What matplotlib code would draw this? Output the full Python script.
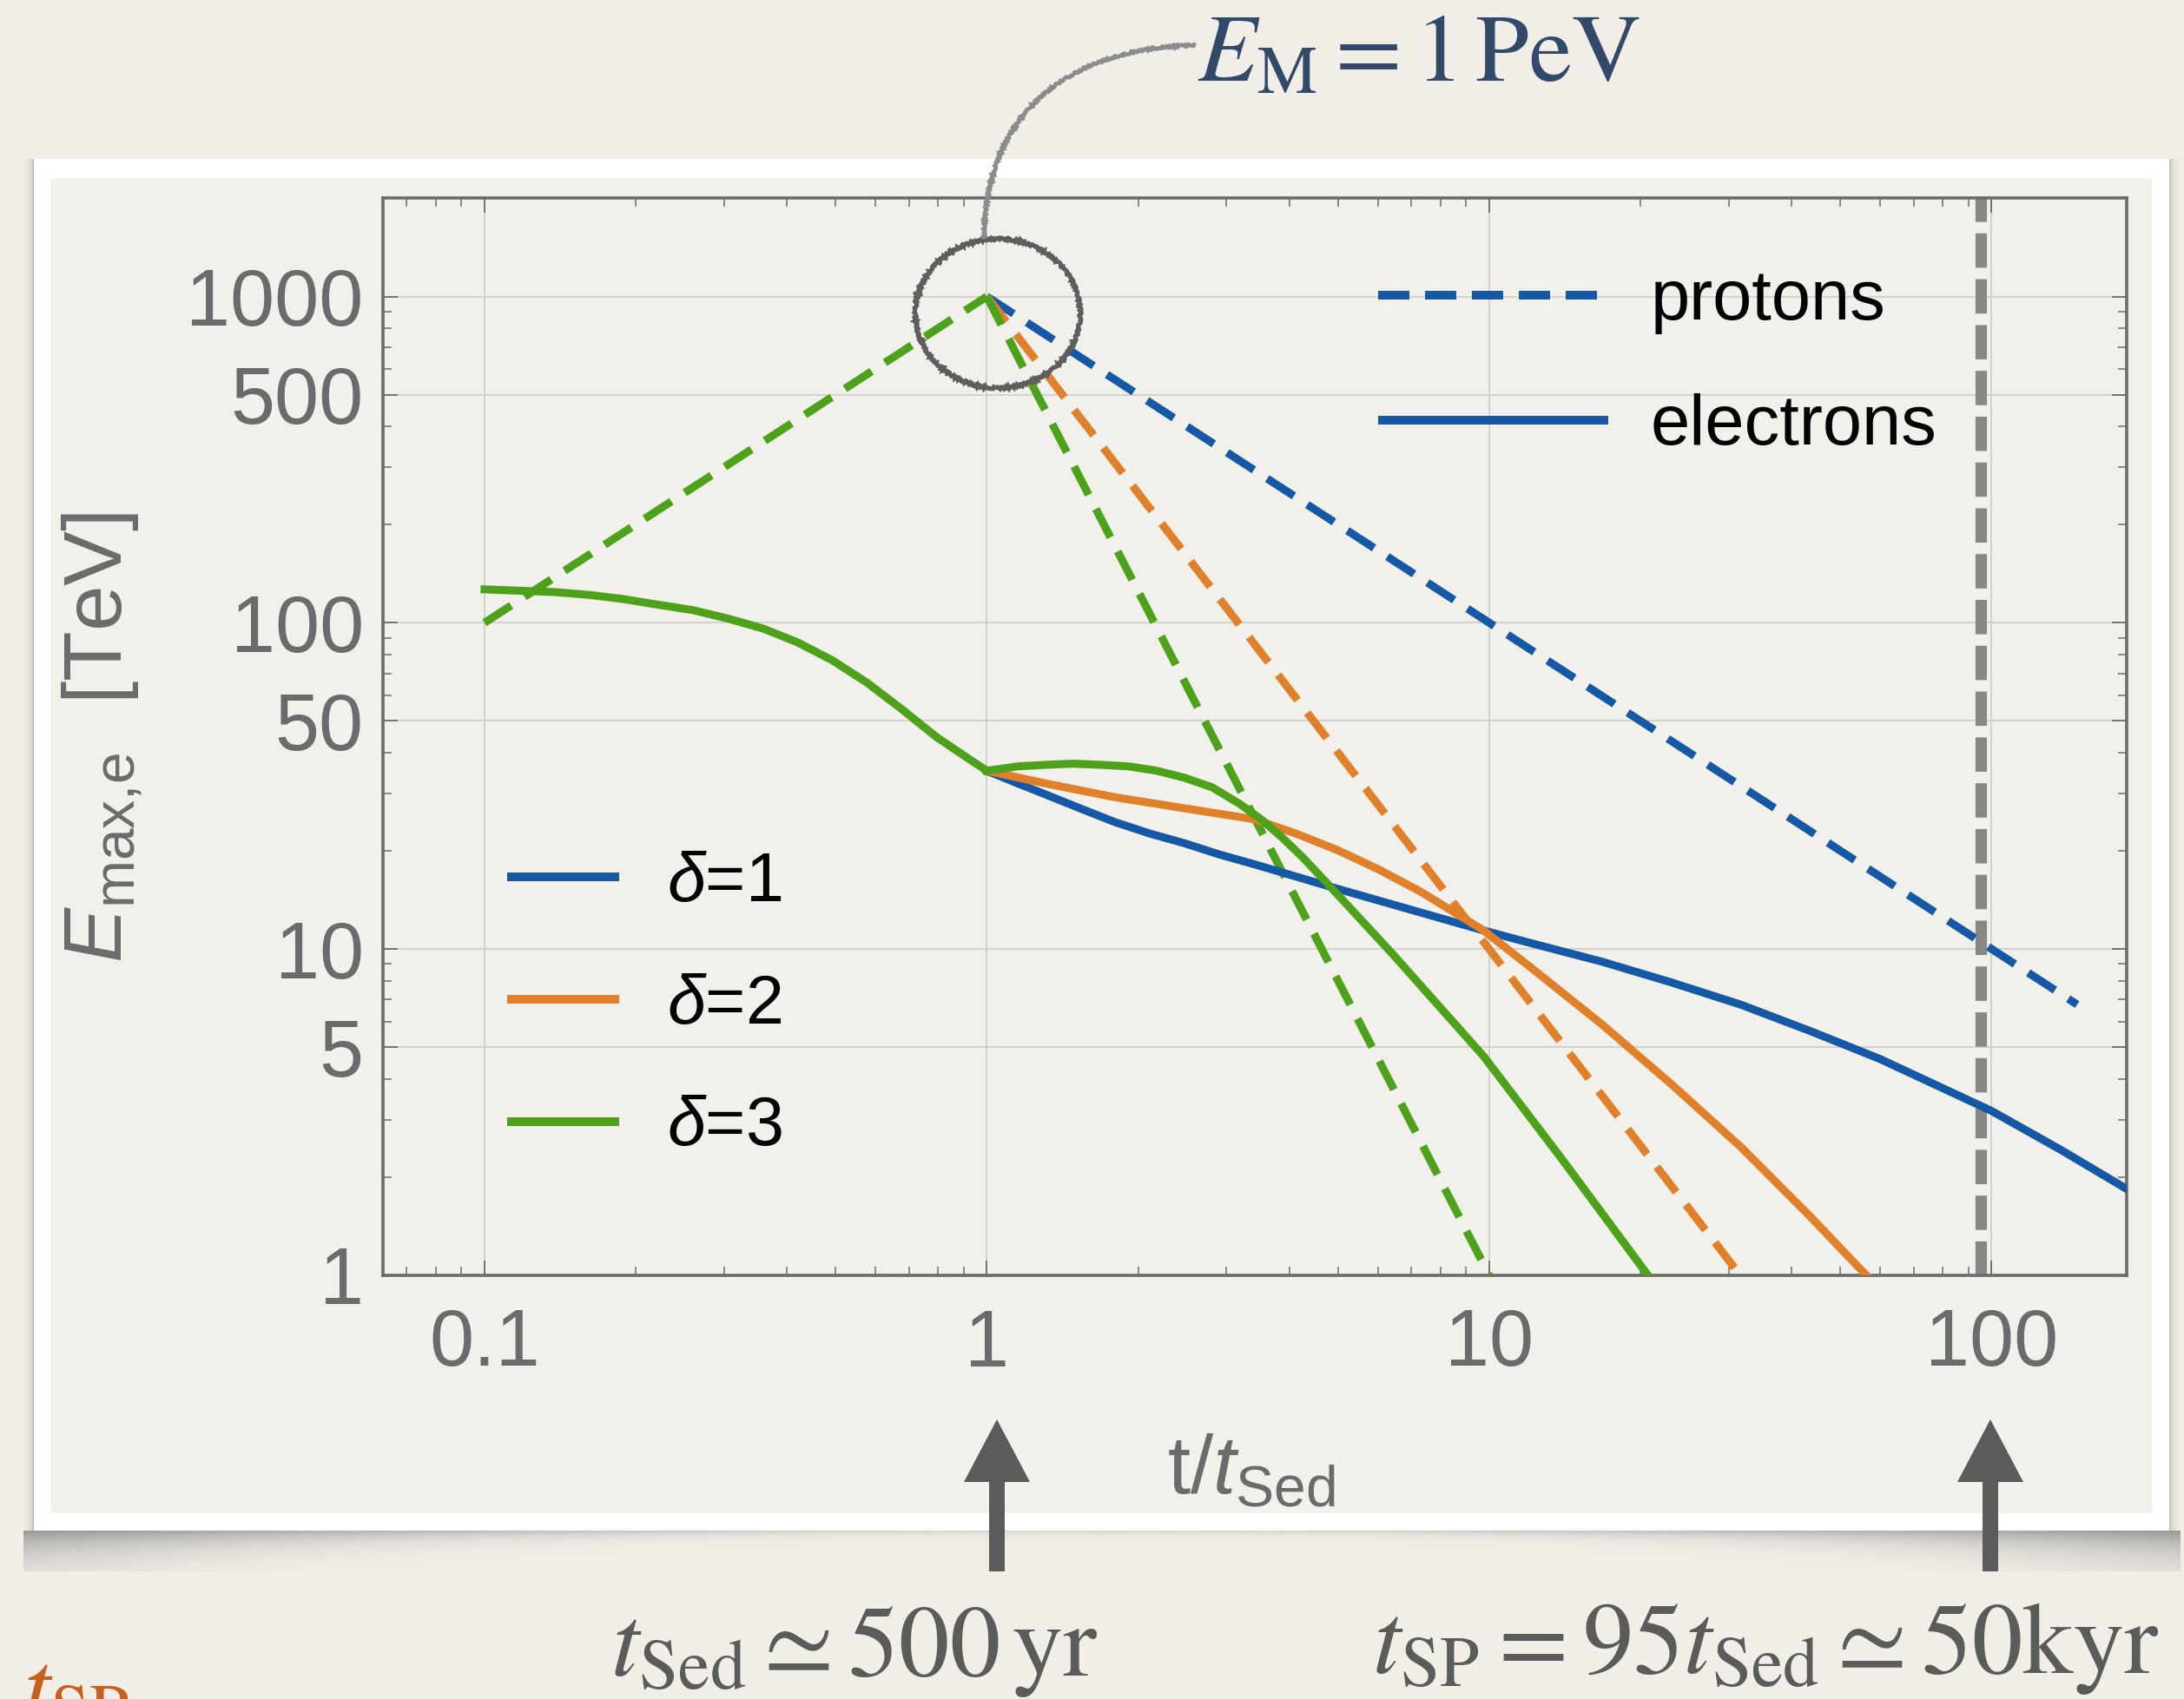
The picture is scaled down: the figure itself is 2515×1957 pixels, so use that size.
import numpy as np
import matplotlib
matplotlib.use("Agg")
import matplotlib.pyplot as plt
from matplotlib import patches
from matplotlib.path import Path
from matplotlib.lines import Line2D
from matplotlib.transforms import Affine2D

W, H = 2515, 1957

# proton cut-off: common rise until t_Sed, then E ~ t^-delta
t_rise = [0.1, 1.0]
E_rise = [100, 1000]
t_p1 = [1.0, 148.0]
E_p1 = [1000, 6.76]
t_p2 = [1.0, 31.6]
E_p2 = [1000, 1.0]
t_p3 = [1.0, 10.0]
E_p3 = [1000, 1.0]

# electron cut-off (loss limited), shared branch before t_Sed
t_e0 = [0.1, 0.1173, 0.1376, 0.1614, 0.1892, 0.2219, 0.2603, 0.3053, 0.3581,
        0.42, 0.4926, 0.5777, 0.6776, 0.7947, 0.9322, 1.0]
E_e0 = [126.6, 125.4, 124.2, 121.8, 118.2, 113.6, 109.3, 103.0, 96.1,
        87.1, 76.7, 65.5, 54.3, 44.6, 37.8, 35.2]
t_e1 = [1.0, 1.151, 1.307, 1.533, 1.798, 2.109, 2.474, 2.901, 3.403, 4.99, 9.748,
        12.18, 16.76, 23.06, 31.72, 43.63, 60.02, 72.68, 100, 137.6, 185.7]
E_e1 = [35.2, 32.2, 29.8, 27.0, 24.5, 22.6, 21.1, 19.5, 18.2, 15.3, 11.4,
        10.4, 9.15, 7.9, 6.75, 5.6, 4.6, 4.01, 3.19, 2.42, 1.84]
t_e2 = [1.0, 1.307, 1.798, 2.474, 3.403, 4.121, 4.99, 6.041, 7.316, 9.748,
        12.18, 16.76, 23.06, 31.72, 43.63, 56.3]
E_e2 = [35.2, 32.2, 29.2, 27.0, 25.0, 22.6, 20.1, 17.5, 14.97, 11.4,
        8.71, 5.88, 3.85, 2.47, 1.51, 1.0]
t_e3 = [1.0, 1.151, 1.307, 1.485, 1.687, 1.917, 2.178, 2.474, 2.81, 3.193, 3.513,
        3.867, 4.254, 4.99, 6.44, 9.748, 13.84, 20.7]
E_e3 = [35.2, 36.3, 36.7, 37.0, 36.7, 36.3, 35.2, 33.5, 31.3, 27.8, 25.0,
        22.0, 19.1, 14.7, 9.61, 4.69, 2.31, 1.0]

t_SP = 95

xticks = [0.1, 1, 10, 100]
xticklabels = ["0.1", "1", "10", "100"]
yticks = [1, 5, 10, 50, 100, 500, 1000]
yticklabels = ["1", "5", "10", "50", "100", "500", "1000"]

blue = "#1558a6"
orange = "#e0802a"
green = "#4ea21b"
grey = "#6b6b6b"
paper = "#f1eee8"

plt.rcParams["font.family"] = "Liberation Sans"
plt.rcParams["mathtext.fontset"] = "custom"
plt.rcParams["mathtext.rm"] = "Liberation Sans"
plt.rcParams["mathtext.it"] = "Liberation Sans:italic"
plt.rcParams["mathtext.bf"] = "Liberation Sans:bold"

fig = plt.figure(figsize=(W / 100, H / 100), dpi=100)
fig.patch.set_facecolor(paper)

# pixel coordinates, origin top-left
px = Affine2D().scale(1 / W, -1 / H).translate(0, 1) + fig.transFigure

# --- slide frame with soft curled shadow ---
fx0, fy0, fx1, fy1 = 39, 183, 2498, 1763
sh = fig.add_axes([20 / W, 1 - 1810 / H, 2500 / W, 47 / H], zorder=-8)
sh.set_axis_off()
u = np.linspace(0, 1, 2500)
d = np.arange(47)[:, None]
edge = np.abs(2 * u - 1)
depth = 4 + 24 * edge ** 3
inside = ((u * 2500 + 20) > fx0 - 12) & ((u * 2500 + 20) < fx1 + 12)
alpha = 0.55 * np.exp(-d / depth[None, :]) * (0.35 + 0.65 * edge ** 1.5)[None, :] * inside[None, :]
rgba = np.zeros((47, 2500, 4))
rgba[..., :3] = 0.3
rgba[..., 3] = alpha
sh.imshow(rgba, extent=[0, 1, 0, 1], aspect="auto", origin="upper")

for x_a, x_b, flip in [(26, fx0, False), (fx1, fx1 + 13, True)]:
    side = fig.add_axes([x_a / W, 1 - fy1 / H, (x_b - x_a) / W, (fy1 - fy0) / H], zorder=-8)
    side.set_axis_off()
    n = x_b - x_a
    k = np.arange(n)[::-1] if not flip else np.arange(n)
    a = 0.3 * np.exp(-k / 4.0)
    strip = np.zeros((2, n, 4))
    strip[..., :3] = 0.35
    strip[..., 3] = a[None, :]
    side.imshow(strip, extent=[0, 1, 0, 1], aspect="auto")

fig.patches.append(patches.Rectangle((fx0, fy0), fx1 - fx0, fy1 - fy0, transform=px,
                                     facecolor="white", edgecolor="none", zorder=-5))
fig.patches.append(patches.Rectangle((59, 205), 2478 - 59, 1743 - 205, transform=px,
                                     facecolor="#f2f0eb", edgecolor="none", zorder=-4))

# --- main axes ---
ax = fig.add_axes([441 / W, 1 - 1469 / H, (2449 - 441) / W, (1469 - 228) / H])
ax.set_facecolor("none")
ax.set_xscale("log")
ax.set_yscale("log")
ax.set_xlim(0.0628, 185.7)
ax.set_ylim(1, 2005)

lw = 6.6
dash = dict(dashes=(4, 2), dash_capstyle="butt")
ax.plot(t_p1, E_p1, color=blue, lw=lw, zorder=3, **dash)
ax.plot(t_p2, E_p2, color=orange, lw=lw, zorder=3, **dash)
ax.plot(t_p3, E_p3, color=green, lw=lw, zorder=3, **dash)
ax.plot(t_rise, E_rise, color=green, lw=lw, zorder=3, **dash)

ax.plot(t_e1, E_e1, color=blue, lw=lw, zorder=3, solid_joinstyle="round")
ax.plot(t_e2, E_e2, color=orange, lw=lw, zorder=3, solid_joinstyle="round")
ax.plot(t_e3, E_e3, color=green, lw=lw, zorder=3, solid_joinstyle="round")
ax.plot(t_e0, E_e0, color=green, lw=lw, zorder=3, solid_joinstyle="round")

ax.axvline(t_SP, color="#878787", lw=9.5, dashes=(3.0, 1.0), zorder=2)

ax.set_xticks(xticks)
ax.set_xticklabels(xticklabels)
ax.set_yticks(yticks)
ax.set_yticklabels(yticklabels)
xminor = [m * 10.0 ** k for k in range(-2, 3) for m in range(2, 10)]
yminor = [m * 10.0 ** k for k in range(0, 4) for m in (2, 3, 4, 6, 7, 8, 9)]
ax.set_xticks([v for v in xminor if 0.0628 < v < 185.7], minor=True)
ax.set_yticks([v for v in yminor if 1 < v < 2005], minor=True)
ax.xaxis.set_minor_formatter(plt.NullFormatter())
ax.yaxis.set_minor_formatter(plt.NullFormatter())
ax.tick_params(which="both", direction="in", top=True, right=True, colors=grey,
               labelcolor=grey, labelsize=66)
ax.tick_params(axis="x", pad=27)
ax.tick_params(axis="y", pad=16)
ax.tick_params(which="major", length=12, width=1.3)
ax.tick_params(which="minor", length=7, width=1.1)
ax.grid(True, which="major", color="#d2cfca", lw=1.3, zorder=0)
for s in ax.spines.values():
    s.set_color(grey)
    s.set_linewidth(2.6)

ax.set_xlabel("t/$t_{\\mathrm{Sed}}$", fontsize=68, color=grey)
ax.xaxis.set_label_coords(0.498, -0.203)
ax.xaxis.label.set_va("baseline")
ax.set_ylabel("$E_{\\mathrm{max{,}e}}$  [TeV]", fontsize=68, color=grey)
ax.yaxis.set_label_coords(-0.161, 0.499)
ax.yaxis.label.set_va("center")

# legends
species = ax.legend(handles=[Line2D([], [], color=blue, lw=7.2, dashes=(3.6, 1.8), dash_capstyle="butt"),
                             Line2D([], [], color=blue, lw=7.2, solid_capstyle="butt")],
                    labels=["protons", "electrons"], loc="upper left",
                    bbox_to_anchor=(1587, 309), bbox_transform=px, frameon=False,
                    fontsize=58.5, handlelength=3.26, handletextpad=0.6,
                    labelspacing=0.84, borderpad=0, borderaxespad=0)
ax.add_artist(species)
ax.legend(handles=[Line2D([], [], color=c, lw=7.2, solid_capstyle="butt") for c in (blue, orange, green)],
          labels=["$\\delta$=1", "$\\delta$=2", "$\\delta$=3"], loc="upper left",
          bbox_to_anchor=(584, 980), bbox_transform=px, frameon=False,
          fontsize=57, handlelength=1.63, handletextpad=0.7,
          labelspacing=0.83, borderpad=0, borderaxespad=0)

# --- slide annotations ---
serif = dict(family="Liberation Serif", math_fontfamily="stix", transform=px)
fig.text(1634, 93, "$E_{\\mathrm{M}}=1\\,\\mathrm{PeV}$", fontsize=80, color="#33496a",
         ha="center", va="baseline", **serif)
fig.text(984, 1930, "$t_{\\mathrm{Sed}}\\simeq500\\,\\mathrm{yr}$", fontsize=84, color="#5b5b59",
         ha="center", va="baseline", **serif)
fig.text(2033, 1927, "$t_{\\mathrm{SP}}=95t_{\\mathrm{Sed}}\\simeq50\\mathrm{kyr}$", fontsize=84,
         color="#5b5b59", ha="center", va="baseline", **serif)
fig.text(25, 1982, "$t_{\\mathrm{SP}}$", fontsize=84, color="#c8601c",
         ha="left", va="baseline", **serif)

for xa in (1148, 2292):
    arrow = patches.Polygon([(xa, 1635), (xa + 38, 1707), (xa + 9, 1707), (xa + 9, 1810),
                             (xa - 9, 1810), (xa - 9, 1707), (xa - 38, 1707)],
                            closed=True, transform=px, facecolor="#5b5b59",
                            edgecolor="none", zorder=6)
    fig.patches.append(arrow)

ring = patches.Ellipse((1149, 361), 190, 172, transform=px, fill=False,
                       edgecolor="#5e5e5e", lw=3.6, zorder=6)
ring.set_sketch_params(scale=1.2, length=5, randomness=4)
fig.patches.append(ring)

lead = patches.PathPatch(Path([(1377, 52), (1240, 55), (1135, 120), (1133, 275)],
                              [Path.MOVETO, Path.CURVE4, Path.CURVE4, Path.CURVE4]),
                         transform=px, fill=False, edgecolor="#8c8c8c", lw=3.4, zorder=6)
lead.set_sketch_params(scale=1.0, length=5, randomness=4)
fig.patches.append(lead)

fig.savefig("out.png", dpi=100, facecolor=fig.get_facecolor())
